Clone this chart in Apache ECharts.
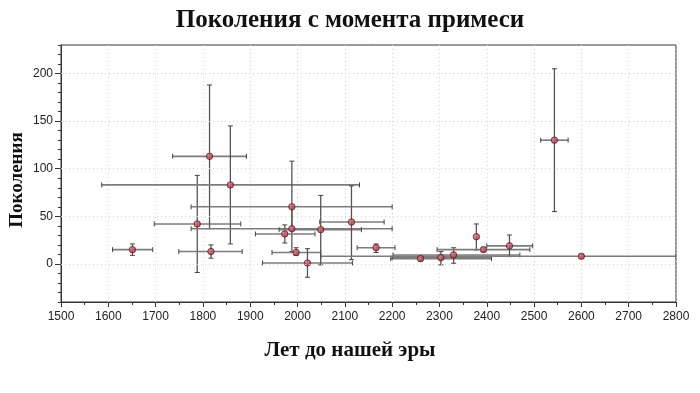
<!DOCTYPE html>
<html><head><meta charset="utf-8">
<script src="https://cdn.jsdelivr.net/npm/echarts@6/dist/echarts.min.js"></script>
<style>html,body{margin:0;padding:0;background:#fff}#c{width:700px;height:393px}</style>
</head><body><div id="c"></div>
<script>
// Data
const years    = [1651, 1788, 1814, 1817, 1858, 1988, 1988, 1973, 1997, 2021, 2049, 2114, 2166, 2260, 2303, 2330, 2378, 2393, 2448, 2543, 2600];
const gens     = [15,   42,   113,  13,   83,   60,   37,   31.5, 12,   1,    36,   44,   17,   5.6,  6.6,  9.4,  28.6, 15,   19,   130,  8];
const yearLow  = [1609, 1697, 1736, 1749, 1586, 1775, 1775, 1911, 1946, 1926, 1961, 2047, 2126, 2197, 2200, 2202, 2378, 2295, 2400, 2514, 2049];
const yearHigh = [1694, 1880, 1892, 1883, 2131, 2200, 2200, 2037, 2049, 2116, 2135, 2183, 2206, 2410, 2410, 2470, 2378, 2491, 2497, 2572, 2800];
const genLow   = [9,    -9,   37,   6,    21,   37,   13,   22,   9,    -14,  -1,   4.5,  12,   3,    -1,   0.7,  14.7, 13,   7.7,  55,   6];
const genHigh  = [21,   93,   188,  20,   145,  108,  60,   41,   17,   16,   72,   82,   21,   8,    13,   17,   42,   17,   30.4, 205,  10];
const xTicks = {min: 1500, max: 2800, step: 100};
const yMajor = [0, 50, 100, 150, 200];
const yRange = {min: -40, max: 230, step: 10};

const titleText = 'Поколения с момента примеси';
const xName = 'Лет до нашей эры';
const yName = 'Поколения';

const errData = years.map((x, i) => [x, gens[i], yearLow[i], yearHigh[i], genLow[i], genHigh[i]]);
const ptData = years.map((x, i) => [x, gens[i]]);

const chart = echarts.init(document.getElementById('c'), null, {renderer: 'canvas'});
const serif = '"Liberation Serif", "DejaVu Serif", serif';
const sans = '"Liberation Sans", Arial, sans-serif';

chart.setOption({
  animation: false,
  backgroundColor: '#fff',
  grid: {left: 61, right: 24, top: 45, bottom: 91, show: true, borderColor: '#333', borderWidth: 1},
  xAxis: {
    type: 'value', min: xTicks.min, max: xTicks.max, interval: xTicks.step,
    axisLine: {onZero: false, lineStyle: {color: '#333', width: 1}},
    axisTick: {show: true, length: 5, lineStyle: {color: '#333'}},
    minorTick: {show: true, splitNumber: 2, length: 3, lineStyle: {color: '#333'}},
    axisLabel: {color: '#222', fontFamily: sans, fontSize: 12, margin: 9, formatter: v => String(v)},
    splitLine: {show: true, lineStyle: {color: '#d4d4d4', type: [1, 3], width: 1}}
  },
  yAxis: [{
    type: 'value', min: yRange.min, max: yRange.max, interval: yRange.step,
    axisLine: {show: true, onZero: false, lineStyle: {color: '#333', width: 1}},
    axisTick: {show: true, length: 3, lineStyle: {color: '#333'}},
    axisLabel: {color: '#222', fontFamily: sans, fontSize: 12, margin: 8,
      formatter: v => (yMajor.indexOf(v) >= 0 ? String(v) : '')},
    splitLine: {show: false}
  }, {
    type: 'value', min: yRange.min, max: yRange.max, position: 'left',
    axisLine: {show: false, onZero: false},
    axisTick: {show: true, length: 6, customValues: yMajor, lineStyle: {color: '#333'}},
    axisLabel: {show: false},
    splitLine: {show: false}
  }],
  graphic: [
    {type: 'text', left: 'center', top: 8, style: {text: titleText, font: 'bold 25px ' + serif, fill: '#111'}},
    {type: 'text', x: 350, y: 351, style: {text: xName, font: 'bold 21px ' + serif, fill: '#111', textAlign: 'center', textVerticalAlign: 'middle'}},
    {type: 'text', x: 17, y: 180, rotation: Math.PI / 2, style: {text: yName, font: 'bold 19px ' + serif, fill: '#111', textAlign: 'center', textVerticalAlign: 'middle'}}
  ],
  series: [
    {
      type: 'scatter', data: [], z: 1, silent: true,
      markLine: {
        silent: true, symbol: 'none', label: {show: false},
        lineStyle: {color: '#d4d4d4', type: [1, 3], width: 1},
        data: yMajor.map(v => ({yAxis: v}))
      }
    },
    {
      type: 'custom', z: 2, clip: true,
      data: errData,
      renderItem: function (params, api) {
        const x = api.value(0), y = api.value(1);
        const xl = api.value(2), xh = api.value(3), yl = api.value(4), yh = api.value(5);
        const ch = [];
        const cap = 2.5;
        if (xh > xl) {
          const a = api.coord([xl, y]), b = api.coord([xh, y]);
          ch.push({type: 'line', shape: {x1: a[0], y1: a[1], x2: b[0], y2: b[1]}, style: {stroke: '#7c7c7c', lineWidth: 1.6}});
          ch.push({type: 'line', shape: {x1: a[0], y1: a[1] - cap, x2: a[0], y2: a[1] + cap}, style: {stroke: '#444', lineWidth: 1}});
          ch.push({type: 'line', shape: {x1: b[0], y1: b[1] - cap, x2: b[0], y2: b[1] + cap}, style: {stroke: '#444', lineWidth: 1}});
        }
        if (yh > yl) {
          const a = api.coord([x, yl]), b = api.coord([x, yh]);
          ch.push({type: 'line', shape: {x1: a[0], y1: a[1], x2: b[0], y2: b[1]}, style: {stroke: '#555', lineWidth: 1.3}});
          ch.push({type: 'line', shape: {x1: a[0] - cap, y1: a[1], x2: a[0] + cap, y2: a[1]}, style: {stroke: '#444', lineWidth: 1}});
          ch.push({type: 'line', shape: {x1: b[0] - cap, y1: b[1], x2: b[0] + cap, y2: b[1]}, style: {stroke: '#444', lineWidth: 1}});
        }
        return {type: 'group', children: ch};
      }
    },
    {
      type: 'scatter', z: 3, data: ptData, symbol: 'circle', symbolSize: 6.5,
      itemStyle: {
        color: new echarts.graphic.RadialGradient(0.4, 0.4, 0.6, [
          {offset: 0, color: '#f07a88'}, {offset: 1, color: '#b0203a'}
        ]),
        borderColor: '#3a1a1e', borderWidth: 0.8
      }
    }
  ]
});
</script>
</body></html>
